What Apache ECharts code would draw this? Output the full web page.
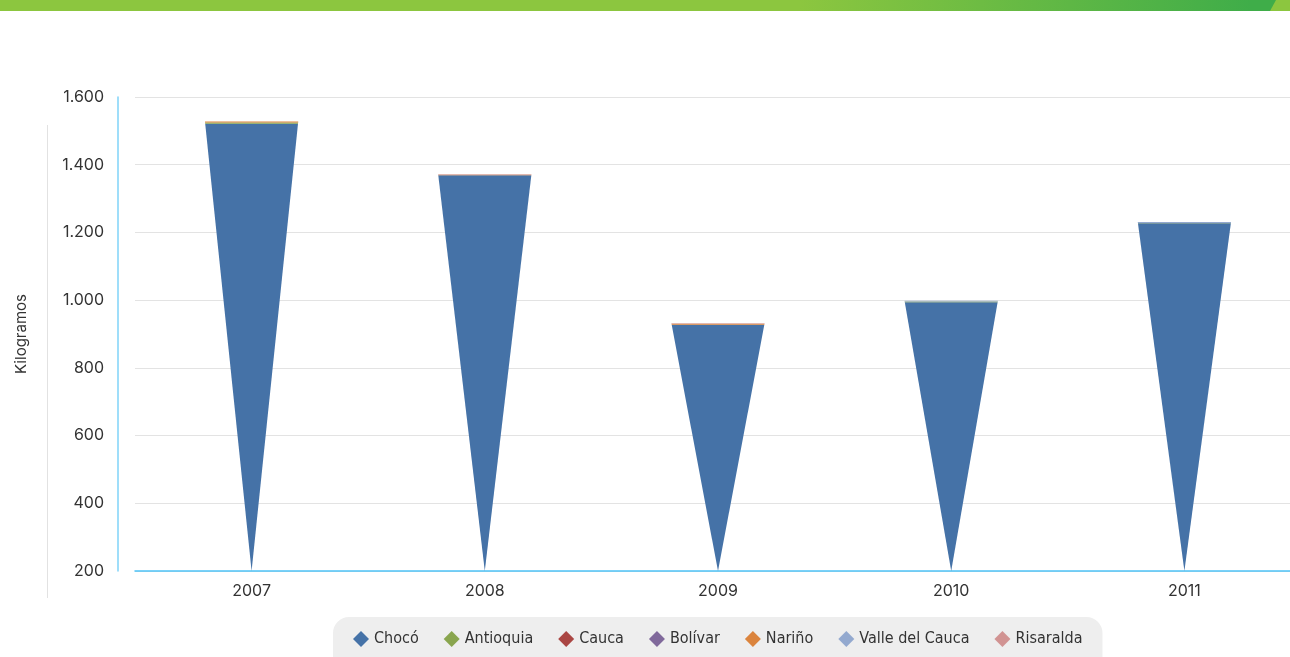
<!DOCTYPE html>
<html><head><meta charset="utf-8">
<script src="https://cdn.jsdelivr.net/npm/echarts@6/dist/echarts.min.js"></script>
<style>html,body{margin:0;padding:0;background:#fff}#c{width:1290px;height:657px}</style>
</head><body><div id="c"></div>
<script>
const years = ['2007','2008','2009','2010','2011'];
const seriesNames = ['Chocó','Antioquia','Cauca','Bolívar','Nariño','Valle del Cauca','Risaralda'];
const colors = ['#4572A7','#89A54E','#AA4643','#80699B','#DB843D','#93A9CF','#D19392'];
const choco      = [1521, 1369, 927, 994, 1227];
const antioquia  = [4, 0, 0, 2, 1];
const cauca      = [0, 0, 0, 0, 0];
const bolivar    = [0, 0, 0, 0, 0];
const narino     = [3, 1, 3, 0, 0];
const valle      = [0, 0, 0, 2, 3];
const risaralda  = [0, 2, 2, 0, 0];
const yTicks = [200, 1600, 200]; // min, max, interval

const values = [choco, antioquia, cauca, bolivar, narino, valle, risaralda];
const totals = years.map((_, i) => values.reduce((s, arr) => s + arr[i], 0));
const base = yTicks[0];

function makeSeries(k) {
  const data = years.map((_, i) => {
    let lower = 0;
    for (let j = 0; j < k; j++) lower += values[j][i];
    const upper = lower + values[k][i];
    return [i, lower, upper, totals[i]];
  });
  return {
    type: 'custom',
    name: seriesNames[k],
    itemStyle: { color: colors[k] },
    encode: { x: 0, y: [1, 2] },
    data: data,
    renderItem: function (params, api) {
      const i = api.value(0), lo = Math.max(api.value(1), base), hi = api.value(2), tot = api.value(3);
      if (hi <= lo) return null;
      const band = api.size([1, 0])[0];
      const half = band * 0.2;
      const pLo = api.coord([i, lo]);
      const pHi = api.coord([i, hi]);
      const hwLo = half * (lo - base) / (tot - base);
      const hwHi = half * (hi - base) / (tot - base);
      return {
        type: 'polygon',
        shape: { points: [[pLo[0] - hwLo, pLo[1]], [pLo[0] + hwLo, pLo[1]], [pHi[0] + hwHi, pHi[1]], [pHi[0] - hwHi, pHi[1]]] },
        style: { fill: colors[k] }
      };
    }
  };
}

const chart = echarts.init(document.getElementById('c'));
chart.setOption({
  animation: false,
  color: colors,
  grid: { left: 135, width: 1166, top: 97, bottom: 86, outerBoundsMode: 'none' },
  xAxis: {
    type: 'category', data: years,
    axisLine: { lineStyle: { color: '#4fc3f7', width: 1.5 } },
    axisTick: { show: false },
    axisLabel: { color: '#333', fontFamily: 'Inter', fontSize: 16, margin: 12 }
  },
  yAxis: {
    type: 'value', min: yTicks[0], max: yTicks[1], interval: yTicks[2], offset: 17,
    name: 'Kilogramos', nameLocation: 'middle', nameGap: 89,
    nameTextStyle: { color: '#333', fontFamily: 'Inter', fontSize: 15 },
    axisLine: { show: true, lineStyle: { width: 1.5, color: '#7fd3f8' } },
    axisTick: { show: false },
    axisLabel: { color: '#333', fontFamily: 'Inter', fontSize: 16, margin: 14,
      formatter: v => String(v).replace(/\B(?=(\d{3})+(?!\d))/g, '.') },
    splitLine: { lineStyle: { color: '#e3e3e3' } }
  },
  legend: {
    data: seriesNames, top: 617, left: 333, icon: 'diamond', itemWidth: 16, itemHeight: 16,
    itemGap: 25, backgroundColor: '#eeeeee', borderRadius: 16, padding: [14, 20, 30, 20],
    textStyle: { color: '#333', fontFamily: "'DejaVu Sans Condensed', Roboto", fontSize: 16 }
  },
  graphic: [
    { type: 'rect', left: 0, top: 0, shape: { width: 1290, height: 11 },
      style: { fill: new echarts.graphic.LinearGradient(0, 0, 1, 0, [
        { offset: 0, color: '#8cc63f' }, { offset: 0.62, color: '#8cc63f' }, { offset: 0.97, color: '#3fad49' }, { offset: 1, color: '#3fad49' }]) } },
    { type: 'polygon', shape: { points: [[1270, 11], [1276, 0], [1290, 0], [1290, 11]] }, style: { fill: '#8cc63f' } },
    { type: 'line', shape: { x1: 47.5, y1: 125, x2: 47.5, y2: 598 },
      style: { lineWidth: 1, stroke: '#e2e2e2' } }
  ],
  series: seriesNames.map((_, k) => makeSeries(k))
});
</script></body></html>
